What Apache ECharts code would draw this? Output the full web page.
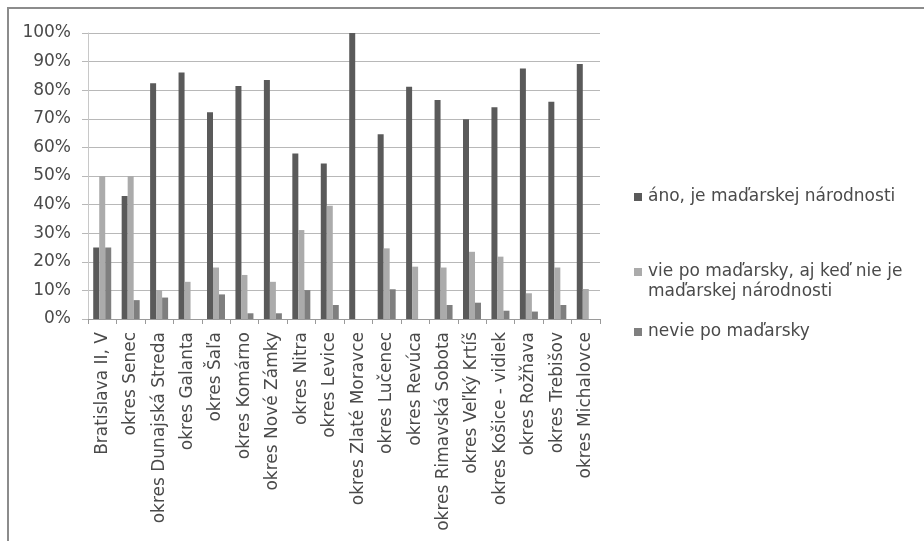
<!DOCTYPE html>
<html>
<head>
<meta charset="utf-8">
<script src="https://cdn.jsdelivr.net/npm/echarts@6/dist/echarts.min.js"></script>
<style>
  html, body { margin: 0; padding: 0; background: #fff; }
  #chart { width: 924px; height: 541px; }
</style>
</head>
<body>
<div id="chart"></div>
<script>
// Districts (okresy) on the category axis
const districts = [
  'Bratislava II, V', 'okres Senec', 'okres Dunajská Streda', 'okres Galanta',
  'okres Šaľa', 'okres Komárno', 'okres Nové Zámky', 'okres Nitra',
  'okres Levice', 'okres Zlaté Moravce', 'okres Lučenec', 'okres Revúca',
  'okres Rimavská Sobota', 'okres Veľký Krtíš', 'okres Košice - vidiek',
  'okres Rožňava', 'okres Trebišov', 'okres Michalovce'
];

// Series names
const seriesNames = [
  'áno, je maďarskej národnosti',
  'vie po maďarsky, aj keď nie je maďarskej národnosti',
  'nevie po maďarsky'
];

// Shares in percent, one value per district
const anoMadar = [25, 43, 82.4, 86.2, 72.3, 81.5, 83.6, 57.9, 54.4, 100, 64.6, 81.2, 76.6, 69.8, 74, 87.6, 76, 89.2];
const viePoMadarsky = [50, 50, 10.1, 13, 18, 15.4, 13, 31.1, 39.6, 0, 24.7, 18.3, 18, 23.5, 21.8, 9, 18, 10.5];
const neviePoMadarsky = [25, 6.6, 7.5, 0, 8.6, 2, 2, 10.1, 4.9, 0, 10.4, 0, 4.9, 5.7, 2.9, 2.6, 4.9, 0];

// Value-axis ticks
const yTicks = [0, 10, 20, 30, 40, 50, 60, 70, 80, 90, 100];

const colors = ['#5a5a5a', '#ababab', '#7f7f7f'];
const font = 'DejaVu Sans';
const textColor = '#4a4a4a';
const fontSize = 17;

const chart = echarts.init(document.getElementById('chart'), null, { renderer: 'canvas' });

function legendFor(idx, top, formatter) {
  return {
    orient: 'vertical',
    left: 634,
    top: top,
    padding: 0,
    data: [seriesNames[idx]],
    icon: 'rect',
    itemWidth: 8,
    itemHeight: 8,
    itemGap: 0,
    selectedMode: false,
    formatter: formatter,
    textStyle: { fontFamily: font, fontSize: fontSize, color: textColor, lineHeight: 20, padding: [0, 0, 0, 1] }
  };
}

chart.setOption({
  animation: false,
  color: colors,
  grid: { left: 88, right: 324, top: 33, bottom: 222, containLabel: false },
  legend: [
    legendFor(0, 187, n => n),
    legendFor(1, 242, () => '\nvie po maďarsky, aj keď nie je\nmaďarskej národnosti'),
    legendFor(2, 322, n => n)
  ],
  graphic: [
    // chart-area frame (top and left edges)
    { type: 'line', shape: { x1: 7, y1: 8, x2: 924, y2: 8 }, style: { stroke: '#8c8c8c', lineWidth: 2 } },
    { type: 'line', shape: { x1: 8, y1: 8, x2: 8, y2: 541 }, style: { stroke: '#8c8c8c', lineWidth: 2 } }
  ],
  xAxis: {
    type: 'category',
    data: districts,
    axisLine: { show: true, lineStyle: { color: '#9a9a9a', width: 1 } },
    axisTick: { show: true, inside: false, length: 5, alignWithLabel: false, lineStyle: { color: '#9a9a9a' } },
    axisLabel: {
      rotate: 90,
      interval: 0,
      margin: 13,
      fontFamily: font,
      fontSize: fontSize,
      color: textColor
    },
    splitLine: { show: false }
  },
  yAxis: {
    type: 'value',
    min: yTicks[0],
    max: yTicks[yTicks.length - 1],
    interval: 10,
    axisLine: { show: true, lineStyle: { color: '#c8c8c8', width: 1 } },
    axisTick: { show: true, length: 6, lineStyle: { color: '#b8b8b8' } },
    axisLabel: {
      formatter: v => v + '%',
      margin: 17,
      fontFamily: font,
      fontSize: fontSize,
      color: textColor
    },
    splitLine: { show: true, lineStyle: { color: '#b8b8b8', width: 1 } }
  },
  series: [
    { name: seriesNames[0], type: 'bar', data: anoMadar, barWidth: 6, barGap: '0%' },
    { name: seriesNames[1], type: 'bar', data: viePoMadarsky, barWidth: 6, barGap: '0%' },
    { name: seriesNames[2], type: 'bar', data: neviePoMadarsky, barWidth: 6, barGap: '0%' }
  ]
});
</script>
</body>
</html>
